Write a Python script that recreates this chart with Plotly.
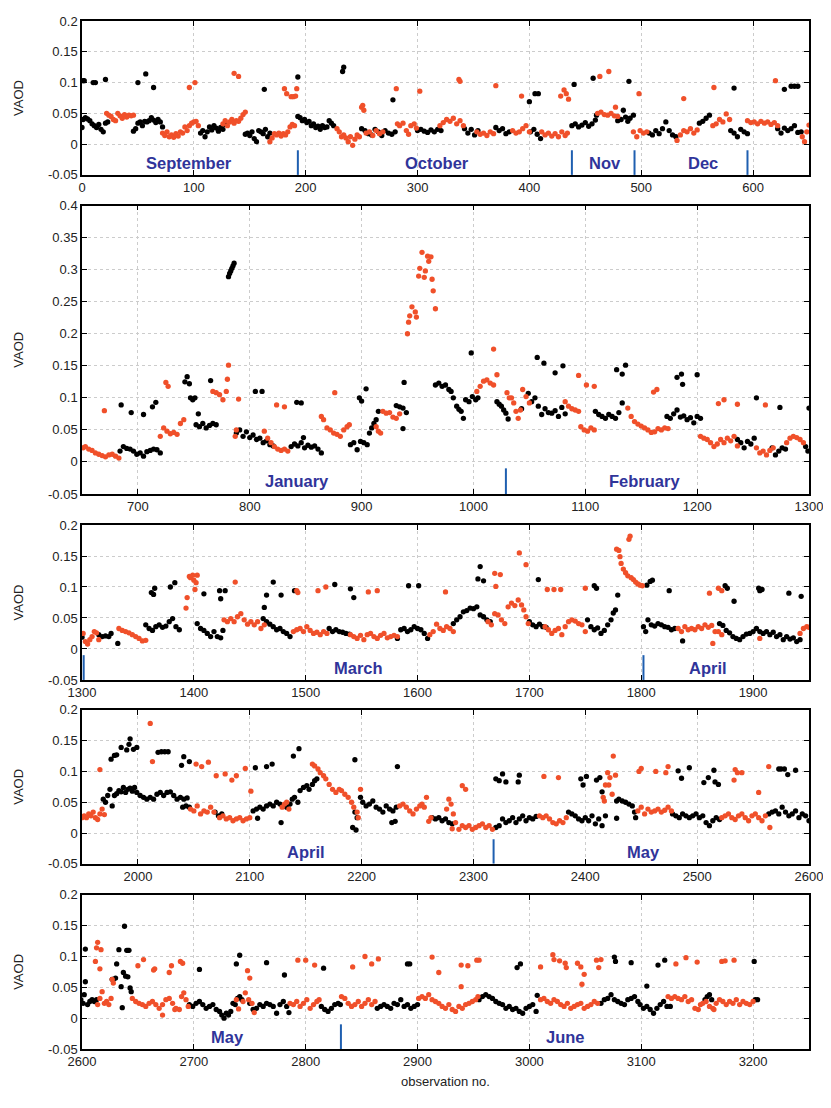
import plotly.graph_objects as go

# VAOD per observation no. -- black and red series (obs, vaod)
p1_black = [
    (0, .027), (1, .04), (3, .043), (5, .041), (7, .038), (9, .033), (11, .03), (13, .027), (15, .032),
    (17, .024), (19, .02), (21, .034), (23, .036),
    (1, .103), (2, .103), (10, .1), (12, .1), (21, .105),
    (46, .021), (48, .025), (50, .034), (52, .036), (54, .03), (56, .037), (58, .036), (60, .038),
    (62, .043), (64, .039), (66, .035), (68, .04), (70, .036), (72, .028),
    (50, .1), (57, .114), (64, .092),
    (106, .018), (108, .022), (110, .012), (112, .02), (114, .028), (116, .023), (118, .03), (120, .026),
    (122, .021), (124, .027), (126, .024), (128, .032),
    (146, .016), (148, .018), (150, .014), (152, .02), (154, .009), (156, .004), (158, .022), (160, .02),
    (162, .017), (164, .024), (166, .012), (168, .018),
    (163, .089), (193, .109),
    (193, .045), (195, .043), (197, .038), (199, .04), (201, .035), (203, .037), (205, .03), (207, .033),
    (209, .027), (211, .029), (213, .024), (215, .03), (217, .027), (219, .028), (221, .038), (223, .034),
    (225, .03),
    (233, .118), (234, .125),
    (250, .025), (253, .022), (256, .017), (259, .015), (262, .024), (265, .02), (268, .014), (271, .022),
    (274, .018), (277, .016), (280, .02),
    (278, .072),
    (300, .022), (303, .024), (306, .021), (309, .019), (312, .023), (315, .02), (318, .024), (321, .022),
    (342, .025), (345, .018), (348, .024), (351, .015), (354, .022),
    (370, .027), (373, .022), (376, .025), (379, .017), (382, .02),
    (400, .069), (405, .082), (408, .082),
    (401, .02), (404, .024), (407, .016), (410, .009),
    (440, .097),
    (438, .03), (441, .033), (444, .028), (447, .031), (450, .035), (453, .029), (456, .033), (459, .039),
    (460, .047),
    (457, .107),
    (479, .038), (482, .04), (484, .055), (486, .044), (488, .037), (490, .042), (493, .047),
    (489, .102),
    (507, .018), (510, .015), (513, .022), (516, .017), (519, .025), (522, .036), (525, .022), (528, .015),
    (531, .012),
    (552, .034), (555, .037), (558, .042), (561, .047),
    (583, .091),
    (580, .022), (583, .018), (586, .012), (589, .024), (592, .02), (595, .017),
    (628, .089), (634, .094), (637, .094), (640, .094),
    (622, .025), (625, .018), (628, .026), (631, .022), (634, .025), (637, .03), (640, .019), (643, .02),
]
p1_red = [
    (22, .05), (24, .047), (26, .045), (28, .04), (30, .038), (32, .05), (34, .046), (36, .042), (38, .048),
    (40, .044), (42, .047), (44, .046), (46, .047),
    (72, .018), (74, .014), (76, .02), (78, .012), (80, .015), (82, .011), (84, .017), (86, .013), (88, .02),
    (90, .018), (92, .028), (94, .022), (96, .03), (98, .034), (100, .036), (102, .037), (104, .03),
    (96, .092), (101, .1),
    (126, .033), (128, .038), (130, .03), (132, .036), (134, .04), (136, .034), (138, .038), (140, .037),
    (142, .042), (144, .048), (146, .052),
    (136, .115), (140, .11),
    (168, .004), (170, .01), (172, .017), (174, .015), (176, .018), (178, .013), (180, .017), (182, .015),
    (184, .02), (186, .028), (188, .032), (190, .03),
    (181, .09), (183, .082), (187, .077), (189, .077), (191, .078), (192, .09),
    (228, .025), (230, .02), (232, .012), (234, .015), (236, .01), (238, .004), (240, .012), (242, -.002),
    (244, .008), (246, .015), (248, .012),
    (250, .06), (251, .063), (252, .055),
    (254, .018), (257, .02), (260, .014), (263, .022), (266, .017), (269, .02),
    (282, .033), (284, .03), (287, .034), (290, .022), (292, .016), (294, .03), (297, .033), (299, .026),
    (281, .09), (302, .086),
    (320, .03), (323, .035), (326, .04), (329, .037), (332, .042), (335, .033), (338, .038), (341, .03),
    (337, .105), (338, .102),
    (353, .02), (356, .016), (359, .018), (362, .014), (365, .02), (368, .017),
    (370, .095),
    (385, .022), (388, .018), (391, .02), (394, .025), (397, .03), (400, .02),
    (393, .078),
    (411, .02), (414, .015), (417, .018), (420, .013), (423, .017), (426, .012), (429, .02), (432, .014),
    (434, .018),
    (428, .078), (431, .088), (433, .082), (435, .073),
    (461, .05), (464, .052), (467, .048), (470, .047), (473, .05), (476, .046), (479, .045),
    (463, .11), (471, .118), (477, .06), (498, .082),
    (493, .02), (496, .012), (499, .022), (502, .018), (505, .02),
    (532, .006), (535, .015), (538, .022), (541, .02), (544, .025), (547, .018), (550, .023),
    (538, .074), (565, .092),
    (564, .03), (567, .033), (570, .04), (573, .036), (576, .049), (579, .04),
    (595, .038), (598, .035), (601, .036), (604, .033), (607, .037), (610, .034), (613, .036), (616, .032),
    (619, .035), (622, .03),
    (620, .103),
    (644, .012), (646, .004), (648, .02), (650, .031),
]

p2_black = [
    (684, .017), (687, .024), (690, .021), (693, .02), (696, .017), (699, .012), (702, .014), (705, .009),
    (708, .016), (711, .018), (714, .02), (717, .019), (720, .014),
    (685, .089), (694, .077), (705, .074), (713, .086), (716, .093),
    (742, .125), (744, .133), (746, .122), (747, .1), (749, .097), (751, .1), (754, .075), (765, .127),
    (752, .058), (755, .055), (758, .06), (761, .053), (764, .057), (767, .06), (770, .058),
    (781, .289), (782, .294), (783, .298), (784, .302), (785, .306), (786, .31),
    (788, .045), (791, .05), (794, .04), (797, .047), (800, .038), (803, .042), (806, .035), (809, .037),
    (812, .03), (815, .033), (818, .027), (821, .025),
    (805, .11), (811, .11),
    (837, .024), (840, .028), (843, .025), (846, .03), (849, .022), (852, .026), (855, .023), (858, .025),
    (861, .02), (864, .014),
    (842, .093), (846, .092), (848, .038),
    (890, .027), (893, .03), (896, .019), (899, .032), (902, .03), (905, .027),
    (898, .1), (900, .095), (904, .114),
    (907, .045), (909, .053), (911, .06), (913, .066), (915, .079),
    (931, .088), (934, .086), (937, .084), (940, .077),
    (938, .124), (937, .052),
    (966, .12), (969, .123), (972, .118), (975, .12), (978, .113), (980, .11), (982, .1), (985, .087),
    (987, .082), (989, .079), (991, .068), (993, .097), (996, .094), (999, .102), (1002, .097), (1004, .1),
    (998, .17),
    (1021, .094), (1023, .09), (1025, .087), (1027, .081), (1029, .076), (1031, .067),
    (1043, .083),
    (1049, .107), (1052, .094), (1055, .1), (1058, .087), (1061, .074), (1064, .083), (1067, .077),
    (1070, .076), (1073, .08), (1076, .071), (1079, .085), (1082, .075),
    (1057, .163), (1063, .154), (1073, .139), (1080, .15),
    (1109, .079), (1112, .074), (1115, .071), (1118, .068), (1121, .074), (1124, .071), (1127, .068),
    (1130, .077), (1133, .092),
    (1128, .144), (1133, .137), (1136, .151),
    (1173, .071), (1176, .068), (1179, .075), (1182, .081), (1185, .07), (1188, .072), (1191, .066),
    (1194, .069), (1197, .061), (1200, .071), (1203, .068),
    (1182, .132), (1186, .137), (1187, .121), (1200, .136),
    (1236, .035), (1239, .03), (1242, .022), (1245, .032), (1248, .028), (1251, .037),
    (1253, .1),
    (1267, .022), (1270, .011), (1273, .017), (1276, .022), (1279, .02),
    (1274, .085),
    (1297, .024), (1299, .017), (1300, .084),
]
p2_red = [
    (651, .022), (653, .024), (656, .02), (659, .018), (662, .014), (665, .012), (668, .01), (671, .008),
    (674, .011), (677, .012), (680, .009), (683, .006),
    (670, .08),
    (720, .04), (723, .053), (726, .048), (729, .044), (732, .046), (735, .043), (738, .06), (741, .066),
    (725, .124), (727, .118),
    (767, .11), (770, .108), (773, .105), (776, .097), (779, .11),
    (780, .129), (781, .151), (790, .098), (787, .04), (788, .05),
    (813, .048), (816, .037), (819, .03), (822, .024), (825, .02), (828, .018), (831, .02), (834, .017),
    (824, .089), (831, .086),
    (864, .071), (866, .066), (869, .053), (872, .05), (875, .045), (878, .043), (881, .04), (884, .05),
    (887, .055), (889, .058),
    (876, .108),
    (913, .055), (915, .048), (917, .045), (919, .079), (922, .076), (925, .077), (928, .07), (931, .068),
    (934, .075),
    (941, .2), (942, .218), (943, .228), (945, .242), (948, .234), (949, .226), (951, .29), (952, .302),
    (954, .327), (956, .288), (957, .298), (959, .321), (960, .313), (962, .32), (963, .285), (964, .267),
    (966, .239),
    (1003, .11), (1006, .118), (1009, .126), (1012, .128), (1015, .123), (1018, .12), (1021, .136),
    (1018, .176),
    (1030, .108), (1032, .1), (1034, .1), (1036, .092), (1038, .079), (1040, .068), (1042, .081),
    (1044, .113), (1047, .102), (1050, .092),
    (1082, .094), (1085, .087), (1088, .083), (1091, .081), (1094, .079),
    (1094, .135), (1101, .12), (1108, .118),
    (1096, .055), (1099, .05), (1102, .048), (1105, .053), (1108, .05),
    (1138, .084), (1141, .071), (1144, .063), (1147, .059), (1150, .056), (1153, .053), (1156, .05),
    (1159, .046), (1162, .047), (1165, .052), (1168, .05), (1171, .053), (1174, .052),
    (1161, .109), (1164, .113),
    (1203, .04), (1206, .037), (1209, .035), (1212, .03), (1215, .024), (1218, .028), (1221, .035),
    (1224, .03), (1227, .037), (1230, .033), (1233, .04), (1236, .025),
    (1219, .091), (1224, .097), (1236, .09),
    (1253, .022), (1256, .014), (1259, .017), (1262, .011), (1265, .018), (1268, .022),
    (1261, .089),
    (1280, .03), (1283, .037), (1286, .04), (1289, .038), (1292, .035), (1295, .03),
]

p3_black = [
    (1300, .019),
    (1315, .023), (1318, .02), (1321, .021), (1324, .02), (1326, .025),
    (1332, .009),
    (1357, .039), (1360, .033), (1363, .03), (1366, .036), (1369, .039), (1372, .035), (1375, .037),
    (1378, .044), (1381, .049), (1384, .036), (1387, .031),
    (1362, .091), (1364, .088), (1365, .098), (1379, .1), (1383, .107),
    (1403, .041), (1406, .033), (1409, .03), (1412, .025), (1415, .02), (1418, .028), (1421, .02),
    (1424, .018),
    (1409, .089), (1423, .094), (1424, .081), (1428, .094), (1426, .03),
    (1462, .049), (1465, .044), (1468, .04), (1471, .036), (1474, .031), (1477, .033), (1480, .028),
    (1483, .025), (1486, .02),
    (1463, .067), (1465, .087), (1471, .108), (1478, .087), (1490, .094),
    (1521, .033), (1524, .028), (1527, .031), (1530, .028), (1533, .027), (1536, .025), (1539, .024),
    (1526, .104), (1540, .097), (1543, .083),
    (1582, .017), (1585, .031), (1588, .033), (1591, .028), (1594, .031), (1597, .036), (1600, .033),
    (1603, .031), (1606, .025), (1609, .017),
    (1592, .102), (1601, .102),
    (1632, .041), (1635, .047), (1638, .052), (1641, .06), (1644, .062), (1647, .066), (1650, .065),
    (1653, .068), (1656, .055), (1659, .052), (1662, .047), (1665, .044),
    (1654, .113), (1656, .133), (1659, .11),
    (1700, .044), (1703, .039), (1706, .036), (1709, .04), (1712, .036), (1715, .035),
    (1708, .112),
    (1752, .047), (1755, .036), (1758, .031), (1761, .034), (1764, .025), (1767, .03), (1770, .039),
    (1773, .047), (1775, .058), (1777, .063),
    (1758, .102), (1760, .098), (1779, .087),
    (1805, .103), (1808, .109), (1810, .111),
    (1802, .036), (1804, .028), (1806, .047), (1809, .039), (1812, .037), (1815, .041), (1818, .039),
    (1821, .036), (1824, .035), (1827, .031), (1830, .033),
    (1825, .094), (1837, .013),
    (1870, .041), (1873, .038), (1876, .03), (1879, .026), (1882, .02), (1885, .017), (1888, .015),
    (1891, .02), (1894, .024), (1897, .025), (1900, .028),
    (1875, .102), (1877, .098), (1883, .077), (1905, .098), (1906, .094), (1908, .096), (1932, .09),
    (1943, .085),
    (1903, .033), (1906, .028), (1909, .025), (1912, .028), (1915, .023), (1918, .027), (1921, .02),
    (1924, .023), (1927, .015), (1930, .02), (1933, .016), (1936, .018), (1939, .012), (1942, .015),
]
p3_red = [
    (1301, .025), (1303, .012), (1305, .008), (1307, .015), (1309, .02), (1311, .028), (1313, .026),
    (1315, .015),
    (1333, .033), (1336, .03), (1339, .028), (1342, .026), (1345, .023), (1348, .02), (1351, .017),
    (1354, .013), (1357, .014),
    (1393, .066), (1394, .083), (1396, .117), (1397, .115), (1399, .119), (1400, .111), (1401, .096),
    (1402, .107), (1403, .119),
    (1427, .047), (1430, .044), (1433, .049), (1436, .044), (1439, .052), (1442, .057), (1445, .047),
    (1448, .04), (1451, .044), (1454, .039), (1457, .044), (1460, .033), (1463, .039),
    (1437, .108),
    (1489, .028), (1492, .031), (1495, .033), (1498, .028), (1501, .036), (1504, .03), (1507, .025),
    (1510, .027), (1513, .023), (1516, .028), (1519, .025),
    (1492, .094), (1493, .091), (1511, .094), (1518, .1),
    (1540, .023), (1543, .02), (1546, .017), (1549, .022), (1552, .015), (1555, .023), (1558, .025),
    (1561, .02), (1564, .017), (1567, .022), (1570, .025), (1573, .018), (1576, .02), (1579, .022),
    (1582, .02),
    (1556, .092), (1564, .094),
    (1611, .023), (1614, .028), (1617, .04), (1620, .033), (1623, .03), (1626, .036), (1629, .033),
    (1632, .028),
    (1625, .092),
    (1663, .044), (1666, .039), (1669, .057), (1672, .055), (1675, .047), (1678, .041), (1681, .068),
    (1684, .074), (1687, .07), (1690, .079), (1693, .071), (1695, .063), (1697, .052), (1699, .041),
    (1669, .122), (1670, .101), (1674, .12), (1691, .155), (1697, .136),
    (1714, .036), (1717, .031), (1720, .025), (1723, .03), (1726, .033), (1729, .023), (1732, .036),
    (1735, .044), (1738, .047), (1741, .045), (1744, .041), (1747, .039), (1750, .028),
    (1716, .096), (1722, .096), (1728, .096), (1750, .098),
    (1778, .161), (1780, .159), (1781, .149), (1782, .138), (1784, .129), (1786, .123), (1789, .177),
    (1790, .182), (1788, .118), (1791, .115), (1793, .112), (1795, .108), (1797, .105), (1799, .103),
    (1801, .102),
    (1833, .033), (1836, .028), (1839, .036), (1842, .031), (1845, .033), (1848, .031), (1851, .036),
    (1854, .033), (1857, .039), (1860, .035), (1863, .038), (1866, .028), (1869, .028), (1872, .023),
    (1861, .09), (1864, .009), (1869, .098), (1872, .094),
    (1906, .017),
    (1942, .025), (1945, .033), (1948, .036), (1950, .035),
]

p4_black = [
    (1969, .055), (1971, .05), (1973, .061), (1975, .071), (1977, .044), (1979, .061), (1981, .064),
    (1983, .069), (1985, .067), (1987, .074), (1989, .066), (1991, .071), (1993, .073), (1995, .068),
    (1997, .074),
    (1976, .12), (1979, .126), (1981, .127), (1985, .139), (1990, .135), (1992, .144), (1993, .153),
    (1996, .136), (1999, .139),
    (1999, .066), (2002, .061), (2005, .058), (2008, .055), (2011, .058), (2014, .055), (2017, .063),
    (2020, .066), (2023, .061), (2026, .066), (2029, .067), (2032, .061), (2035, .055), (2038, .058),
    (2041, .055), (2044, .057),
    (2018, .131), (2021, .132), (2024, .132), (2027, .132), (2039, .11), (2041, .124), (2046, .116),
    (2040, .042), (2043, .044), (2046, .042),
    (2069, .034), (2072, .028), (2075, .031),
    (2103, .036), (2106, .039), (2109, .042), (2112, .039), (2115, .044), (2118, .047), (2121, .044),
    (2124, .05), (2127, .047), (2130, .044), (2133, .042), (2136, .047),
    (2105, .106), (2107, .024), (2115, .108), (2120, .112), (2128, .017),
    (2138, .055), (2140, .058), (2143, .05), (2145, .069), (2148, .074), (2151, .077), (2153, .071),
    (2156, .079), (2158, .085), (2160, .088),
    (2139, .125), (2144, .137),
    (2192, .009), (2194, .034), (2195, .005), (2196, .025), (2194, .119),
    (2199, .058), (2201, .05), (2204, .044), (2207, .047), (2210, .052), (2213, .042), (2216, .039),
    (2219, .034), (2222, .044), (2225, .039), (2228, .036), (2231, .042),
    (2227, .017), (2230, .019), (2232, .108),
    (2263, .025), (2266, .023), (2269, .025), (2272, .02), (2275, .023), (2278, .017), (2281, .015),
    (2320, .009), (2323, .012), (2326, .023), (2329, .017), (2332, .02), (2335, .025), (2338, .017),
    (2341, .023), (2344, .028), (2347, .02), (2350, .025), (2353, .023), (2356, .027),
    (2320, .088), (2323, .085), (2326, .096), (2329, .083), (2340, .083), (2341, .094),
    (2385, .034), (2388, .031), (2391, .028), (2394, .023), (2397, .02), (2400, .025), (2403, .02),
    (2406, .028), (2409, .015), (2412, .023), (2415, .012), (2418, .028),
    (2396, .088), (2398, .078), (2401, .092), (2410, .086), (2413, .09), (2415, .067),
    (2428, .052), (2430, .055), (2433, .052), (2436, .05), (2439, .047), (2442, .044), (2444, .034),
    (2428, .024), (2445, .025),
    (2478, .031), (2481, .028), (2484, .025), (2487, .031), (2490, .028), (2493, .025), (2496, .028),
    (2499, .031), (2502, .025), (2505, .028),
    (2483, .101), (2486, .089), (2493, .106), (2506, .082), (2510, .09), (2515, .102), (2516, .083),
    (2519, .079),
    (2508, .017), (2511, .012), (2514, .02), (2517, .025), (2520, .022),
    (2564, .031), (2567, .034), (2570, .036), (2573, .031), (2576, .042), (2579, .034), (2582, .028),
    (2585, .031), (2588, .036), (2591, .025), (2594, .031), (2597, .028), (2600, .02),
    (2573, .104), (2575, .104), (2578, .104), (2581, .095), (2588, .102),
]
p4_red = [
    (1950, .025), (1952, .028), (1954, .025), (1956, .031), (1958, .028), (1960, .034), (1962, .025),
    (1964, .022), (1966, .031), (1968, .039), (1970, .03),
    (1966, .103), (2011, .178), (2013, .116),
    (2047, .039), (2050, .036), (2053, .044), (2056, .031), (2059, .036), (2062, .034), (2065, .042),
    (2068, .034),
    (2052, .112), (2057, .108), (2063, .115), (2070, .093), (2078, .096), (2084, .086), (2088, .093),
    (2096, .105), (2101, .068),
    (2073, .025), (2076, .028), (2079, .023), (2082, .025), (2085, .02), (2088, .023), (2091, .025),
    (2094, .02), (2097, .023), (2100, .025),
    (2129, .042), (2131, .047), (2133, .05), (2135, .039),
    (2156, .112), (2158, .109), (2161, .104), (2163, .098), (2166, .093), (2168, .088), (2171, .079),
    (2174, .071), (2177, .066), (2180, .071), (2182, .069), (2185, .063), (2188, .058), (2191, .05),
    (2193, .042), (2196, .034),
    (2197, .025), (2199, .071),
    (2234, .044), (2237, .047), (2240, .042), (2243, .036), (2246, .031), (2249, .039), (2252, .044),
    (2254, .047), (2256, .042), (2258, .058), (2260, .019), (2262, .025),
    (2276, .039), (2278, .055), (2280, .047), (2282, .031), (2281, .007),
    (2290, .077), (2293, .071),
    (2284, .017), (2287, .006), (2290, .012), (2293, .009), (2296, .012), (2299, .006), (2302, .009),
    (2305, .012), (2308, .015), (2311, .009), (2314, .012), (2317, .006),
    (2359, .028), (2362, .025), (2365, .028), (2368, .023), (2371, .017), (2374, .015), (2377, .02),
    (2380, .017), (2383, .025),
    (2363, .092), (2376, .09),
    (2416, .058), (2417, .052), (2418, .078), (2420, .098), (2421, .078), (2422, .09), (2424, .063),
    (2425, .125), (2427, .094),
    (2447, .036), (2450, .042), (2453, .031), (2456, .039), (2459, .034), (2462, .036), (2465, .039),
    (2468, .034), (2471, .037), (2474, .042), (2477, .036),
    (2448, .1), (2450, .105), (2463, .1), (2472, .098), (2474, .108),
    (2522, .025), (2525, .028), (2528, .031), (2531, .025), (2534, .022), (2537, .028), (2540, .031),
    (2543, .025), (2546, .02), (2549, .028), (2552, .031), (2555, .025), (2558, .02), (2561, .028),
    (2533, .086), (2534, .103), (2536, .098), (2540, .098), (2555, .066), (2564, .108), (2565, .009),
]

p5_black = [
    (2599, .03), (2601, .024), (2602, .038), (2603, .059), (2605, .022), (2607, .027), (2609, .03),
    (2611, .027), (2613, .03),
    (2603, .112),
    (2627, .063), (2628, .063), (2630, .065), (2631, .088), (2633, .111), (2635, .051), (2636, .017),
    (2637, .074), (2638, .149), (2639, .068), (2640, .11), (2641, .11), (2642, .11), (2641, .067),
    (2643, .049), (2644, .043),
    (2696, .022), (2699, .019), (2702, .024), (2705, .027), (2708, .022), (2711, .016), (2714, .019),
    (2717, .022), (2720, .014), (2723, .011), (2725, .005), (2727, .0), (2729, .008), (2731, .005),
    (2733, .011), (2735, .024), (2737, .022),
    (2705, .079), (2738, .088), (2741, .102), (2765, .09), (2781, .07),
    (2739, .032), (2741, .035), (2743, .03),
    (2750, .024), (2753, .014), (2756, .016), (2759, .022), (2762, .019), (2765, .024), (2768, .022),
    (2771, .019), (2774, .008), (2777, .022), (2780, .027), (2783, .019), (2785, .009),
    (2816, .081),
    (2814, .019), (2817, .014), (2820, .011), (2823, .016), (2826, .022), (2829, .024), (2831, .022),
    (2864, .016), (2867, .019), (2870, .022), (2873, .019), (2876, .016), (2879, .024), (2882, .022),
    (2885, .03), (2888, .019), (2891, .022), (2894, .016), (2897, .019), (2900, .022),
    (2891, .088), (2893, .088),
    (2955, .03), (2958, .035), (2961, .038), (2964, .035), (2967, .032), (2970, .027), (2973, .024),
    (2976, .022), (2979, .016), (2982, .019), (2985, .014), (2988, .016), (2991, .011), (2994, .008),
    (2997, .016), (3000, .019), (3003, .022), (3006, .011),
    (2989, .082), (2992, .088), (3007, .037),
    (3064, .024), (3067, .03), (3070, .032), (3073, .038), (3076, .03), (3079, .027), (3082, .024),
    (3085, .022), (3088, .03), (3091, .032), (3094, .035), (3097, .027),
    (3076, .099), (3077, .092), (3091, .09), (3105, .052),
    (3099, .022), (3102, .016), (3105, .019), (3108, .014), (3111, .008), (3114, .016), (3117, .022),
    (3120, .027), (3123, .019), (3126, .019),
    (3115, .086), (3121, .094),
    (3157, .03), (3159, .035), (3161, .038), (3163, .03),
    (3201, .092), (3202, .03), (3204, .03),
]
p5_red = [
    (2612, .092), (2613, .114), (2614, .123), (2616, .08), (2617, .111),
    (2614, .022), (2616, .032), (2618, .043), (2620, .024), (2622, .027), (2624, .022), (2626, .032),
    (2627, .063), (2628, .057),
    (2645, .032), (2648, .027), (2651, .024), (2654, .022), (2657, .019), (2660, .024), (2663, .027),
    (2666, .022), (2669, .016), (2672, .022), (2675, .03), (2678, .032), (2681, .024), (2684, .016),
    (2687, .014), (2689, .035), (2691, .041), (2693, .03), (2695, .019),
    (2650, .085), (2655, .095), (2664, .078), (2665, .08), (2672, .005), (2678, .074), (2680, .085),
    (2683, .014), (2688, .092), (2690, .089),
    (2738, .03), (2740, .015), (2744, .027), (2746, .041), (2749, .03), (2752, .024), (2754, .009),
    (2748, .077), (2750, .065),
    (2786, .024), (2789, .022), (2792, .027), (2795, .019), (2798, .024), (2801, .03), (2804, .016),
    (2807, .022), (2810, .027), (2812, .03),
    (2793, .094), (2800, .094), (2808, .086),
    (2832, .035), (2835, .032), (2838, .024), (2841, .019), (2844, .022), (2847, .027), (2850, .019),
    (2853, .024), (2856, .03), (2859, .022), (2862, .027),
    (2842, .083), (2853, .1), (2859, .088), (2865, .096),
    (2901, .032), (2904, .035), (2907, .032), (2910, .038), (2913, .03), (2916, .027), (2919, .024),
    (2922, .019), (2925, .016), (2928, .022), (2931, .014), (2934, .011), (2937, .019), (2940, .016),
    (2943, .022), (2946, .024), (2949, .027), (2952, .03), (2954, .035),
    (2913, .099), (2919, .074), (2939, .051), (2939, .086), (2945, .085), (2953, .094), (2955, .094),
    (3010, .03), (3013, .032), (3016, .027), (3019, .024), (3022, .03), (3025, .027), (3028, .022),
    (3031, .019), (3034, .024), (3037, .016), (3040, .019), (3043, .022), (3046, .024), (3049, .016),
    (3052, .019), (3055, .022), (3058, .027), (3061, .024),
    (3010, .083), (3021, .103), (3022, .095), (3027, .093), (3032, .089), (3033, .082), (3043, .089),
    (3046, .083), (3047, .055), (3049, .071), (3060, .094), (3062, .082), (3064, .095),
    (3124, .035), (3127, .032), (3130, .035), (3133, .032), (3136, .03), (3139, .035), (3142, .027),
    (3145, .03), (3148, .016), (3151, .014),
    (3131, .088), (3140, .098), (3150, .091),
    (3153, .022), (3155, .024), (3158, .027), (3161, .019), (3164, .016), (3165, .014),
    (3167, .024), (3170, .03), (3173, .027), (3176, .022), (3179, .027), (3182, .024), (3185, .03),
    (3188, .022), (3191, .027), (3194, .024), (3197, .022), (3200, .027),
    (3172, .092), (3175, .093), (3183, .094),
]

# month names (label, centre obs) and month boundaries (obs)
p1_months = [("September", 96), ("October", 317), ("Nov", 468), ("Dec", 555)]
p1_bounds = [193, 438, 494, 595]
p2_months = [("January", 842), ("February", 1153)]
p2_bounds = [1029]
p3_months = [("March", 1547), ("April", 1860)]
p3_bounds = [1301.5, 1802]
p4_months = [("April", 2150), ("May", 2452)]
p4_bounds = [2318]
p5_months = [("May", 2730), ("June", 3032)]
p5_bounds = [2831.5]

x_ranges = [(0, 650), (650, 1300), (1300, 1950), (1950, 2600), (2600, 3250)]
y_ticks_small = [-0.05, 0, 0.05, 0.1, 0.15, 0.2]
y_ticks_big = [-0.05, 0, 0.05, 0.1, 0.15, 0.2, 0.25, 0.3, 0.35, 0.4]

BLACK = "#000000"
RED = "#f0502a"
MONTH = "#30349a"
BOUND = "#1f5fb0"
FONT = "Liberation Sans, Arial, sans-serif"

panels = [
    (p1_black, p1_red, p1_months, p1_bounds, y_ticks_small, (0.8503, 1.0)),
    (p2_black, p2_red, p2_months, p2_bounds, y_ticks_big, (0.5399, 0.8205)),
    (p3_black, p3_red, p3_months, p3_bounds, y_ticks_small, (0.3590, 0.5097)),
    (p4_black, p4_red, p4_months, p4_bounds, y_ticks_small, (0.1801, 0.3299)),
    (p5_black, p5_red, p5_months, p5_bounds, y_ticks_small, (0.0, 0.1500)),
]


def tick_text(v):
    return "0" if v == 0 else f"{v:g}"


fig = go.Figure()
shapes = []
annotations = []
layout_axes = {}

for k, (black, red, months, bounds, yticks, dom) in enumerate(panels):
    n = "" if k == 0 else str(k + 1)
    xa, ya = "x" + n, "y" + n
    for pts, color in ((black, BLACK), (red, RED)):
        fig.add_trace(go.Scatter(
            x=[p[0] for p in pts], y=[p[1] for p in pts],
            mode="markers", xaxis=xa, yaxis=ya, showlegend=False,
            marker=dict(color=color, size=5.3, line=dict(width=0)),
            hoverinfo="x+y",
        ))
    for b in bounds:
        shapes.append(dict(type="line", xref=xa, yref=ya, x0=b, x1=b, y0=-0.05, y1=-0.01,
                           line=dict(color=BOUND, width=2)))
    for label, xm in months:
        annotations.append(dict(text=f"<b>{label}</b>", x=xm, y=-0.03, xref=xa, yref=ya,
                                showarrow=False, font=dict(family=FONT, size=16.5, color=MONTH)))
    axis_common = dict(showline=True, linecolor="black", linewidth=1.5, mirror="ticks",
                       ticks="inside", ticklen=5, tickcolor="black", showgrid=True,
                       gridcolor="#cccccc", griddash="dot", gridwidth=1, zeroline=False,
                       automargin=False,
                       tickfont=dict(family=FONT, size=13, color="#222"))
    layout_axes["xaxis" + n] = dict(axis_common, range=list(x_ranges[k]), dtick=100, tick0=0,
                                    anchor=ya, domain=[0, 1])
    layout_axes["yaxis" + n] = dict(axis_common, range=[yticks[0], yticks[-1]], tickvals=yticks,
                                    ticktext=[tick_text(v) for v in yticks], anchor=xa, domain=list(dom),
                                    title=dict(text="VAOD", standoff=21,
                                               font=dict(family=FONT, size=13, color="#222")))

layout_axes["xaxis5"]["title"] = dict(text="observation no.", standoff=9,
                                      font=dict(family=FONT, size=13, color="#222"))

# the page body keeps the browser's 8 px margin, so the figure is 8 px smaller on each axis
fig.update_layout(
    width=823, height=1100,
    margin=dict(l=74, r=21.7, t=12.7, b=58.7),
    paper_bgcolor="white", plot_bgcolor="white",
    shapes=shapes, annotations=annotations,
    **layout_axes,
)

fig.write_html("out.html")
